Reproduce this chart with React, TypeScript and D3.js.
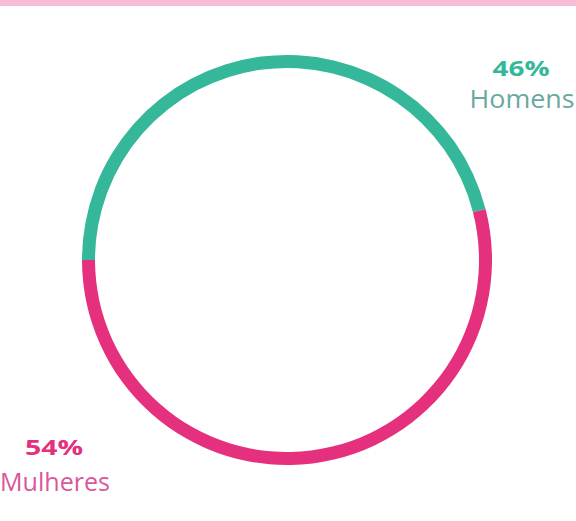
import React from "react";
import * as d3 from "d3";

const categories = ["Homens", "Mulheres"];
const values = [46, 54];
const percentLabels = ["46%", "54%"];
const colors = ["#35b89a", "#e5307d"];
const textColors = ["#6aa99f", "#d8589a"];

const W = 576;
const H = 521;

export default function App() {
  const cx = 287;
  const cy = 260;
  const outer = 205;
  const inner = 192;
  const pie = d3
    .pie<number>()
    .sort(null)
    .startAngle(-Math.PI / 2)
    .endAngle((3 * Math.PI) / 2)
    .value((d) => d);
  const arcs = pie(values);
  const arc = d3.arc<d3.PieArcDatum<number>>().innerRadius(inner).outerRadius(outer);

  return (
    <svg
      width={W}
      height={H}
      style={{ position: "absolute", left: 0, top: 0, background: "#ffffff" }}
      fontFamily="'Open Sans', sans-serif"
    >
      <rect x={0} y={0} width={W} height={6} fill="#f8bdd6" />
      <g transform={`translate(${cx},${cy})`}>
        {arcs.map((a, i) => (
          <path key={categories[i]} d={arc(a) || ""} fill={colors[i]} />
        ))}
      </g>
      <text x={521} y={76} textAnchor="middle" fontSize={22} fontWeight={700} fill={colors[0]} textLength={57} lengthAdjust="spacingAndGlyphs">
        {percentLabels[0]}
      </text>
      <text x={522} y={108} textAnchor="middle" fontSize={25} fontWeight={400} fill={textColors[0]} textLength={105} lengthAdjust="spacingAndGlyphs">
        {categories[0]}
      </text>
      <text x={54} y={455} textAnchor="middle" fontSize={22} fontWeight={700} fill={colors[1]} textLength={58} lengthAdjust="spacingAndGlyphs">
        {percentLabels[1]}
      </text>
      <text x={55} y={491} textAnchor="middle" fontSize={25} fontWeight={400} fill={textColors[1]} textLength={110} lengthAdjust="spacingAndGlyphs">
        {categories[1]}
      </text>
    </svg>
  );
}
